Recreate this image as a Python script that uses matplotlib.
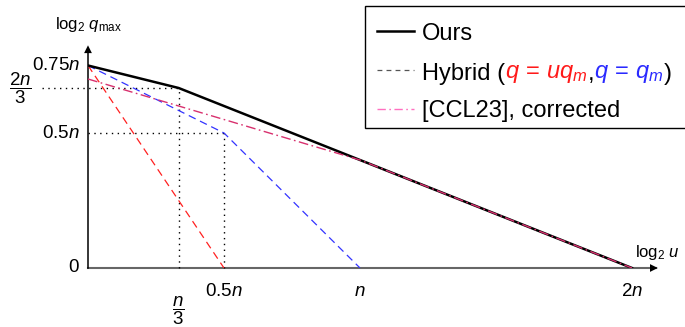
import matplotlib
matplotlib.use("Agg")
import matplotlib.pyplot as plt
from matplotlib.lines import Line2D
from matplotlib.patches import Rectangle

plt.rcParams['font.family'] = ['Liberation Sans', 'DejaVu Sans']
plt.rcParams['mathtext.fontset'] = 'custom'
plt.rcParams['mathtext.rm'] = 'Liberation Sans'
plt.rcParams['mathtext.it'] = 'Liberation Sans:italic'
plt.rcParams['mathtext.bf'] = 'Liberation Sans:bold'
plt.rcParams['lines.scale_dashes'] = False

# all values in units of n
ours_x = [0, 1 / 3, 2]
ours_y = [0.75, 2 / 3, 0]

hyb_red_x = [0, 0.5]
hyb_red_y = [0.75, 0]

hyb_blue_x = [0, 0.5, 1]
hyb_blue_y = [0.75, 0.5, 0]

ccl_x = [0, 1, 2]
ccl_y = [0.7, 0.4, 0]

# dotted guides: (x0, x1, y0, y1)
guides = [(-0.17, 1 / 3, 2 / 3, 2 / 3),
          (0, 0.5, 0.5, 0.5),
          (1 / 3, 1 / 3, 0, 2 / 3),
          (0.5, 0.5, 0, 0.5)]

xtick_pos = [0.5, 1, 2]
xtick_lab = [r'$0.5n$', r'$n$', r'$2n$']
ytick_pos = [0, 0.5, 0.75]
ytick_lab = [r'$0$', r'$0.5n$', r'$0.75n$']

# legend pieces
hyb_parts = ['Hybrid (', r'$q\,=\,uq_m$', ',', r'$q\,=\,q_m$', ')']
hyb_colors = ['black', '#ff1a1a', 'black', '#2a2aff', 'black']

fig = plt.figure(figsize=(6.85, 3.27), dpi=100)
ax = fig.add_axes([88 / 685, 59 / 327, 577 / 685, 256 / 327])
ax.set_xlim(0, 577 / 272)
ax.set_ylim(0, 256 / 270)
ax.axis('off')

# axes with arrows
ax.plot([0, 2.09], [0, 0], color='#666666', lw=1.5, clip_on=False, zorder=1)
ax.annotate('', xy=(2.105, 0), xytext=(2.05, 0),
            arrowprops=dict(arrowstyle='-|>', color='black', lw=0, mutation_scale=14),
            annotation_clip=False)
ax.plot([0, 0], [0, 0.8], color='black', lw=1.1, clip_on=False, zorder=1)
ax.annotate('', xy=(0, 0.835), xytext=(0, 0.78),
            arrowprops=dict(arrowstyle='-|>', color='black', lw=0, mutation_scale=14),
            annotation_clip=False)

for x0, x1, y0, y1 in guides:
    ax.plot([x0, x1], [y0, y1], color='black', lw=1.0, linestyle=(0, (1, 3.2)),
            clip_on=False, zorder=1)

# data lines
ax.plot(hyb_red_x, hyb_red_y, color='#ff2020', lw=0.9, dashes=(5.5, 3.5), zorder=2)
ax.plot(hyb_blue_x, hyb_blue_y, color='#3333ff', lw=0.9, dashes=(5.5, 3.5), zorder=2)
ax.plot(ours_x, ours_y, color='black', lw=1.8, zorder=3)
ax.plot(ccl_x, ccl_y, color='#d8306e', lw=1.0, dashes=(7, 2.5, 1.2, 2.5), zorder=4)

# tick labels
for p, lab in zip(xtick_pos, xtick_lab):
    ax.annotate(lab, xy=(p, 0), xytext=(0, -17), textcoords='offset points',
                ha='center', va='center', fontsize=13.5, annotation_clip=False)
ax.annotate(r'$\dfrac{n}{3}$', xy=(1 / 3, 0), xytext=(0, -31), textcoords='offset points',
            ha='center', va='center', fontsize=13.5, annotation_clip=False)
for p, lab in zip(ytick_pos, ytick_lab):
    ax.annotate(lab, xy=(0, p), xytext=(-6, 0), textcoords='offset points',
                ha='right', va='center', fontsize=13.5, annotation_clip=False)
ax.annotate(r'$\dfrac{2n}{3}$', xy=(0, 2 / 3), xytext=(-48.5, 0), textcoords='offset points',
            ha='center', va='center', fontsize=13.5, annotation_clip=False)

# axis labels
fig.text(88 / 685, 1 - 25 / 327, r'$\log_2\, q_{\mathrm{max}}$', ha='center', va='center',
         fontsize=12)
fig.text(657 / 685, 1 - 252 / 327, r'$\log_2\, u$', ha='center', va='center', fontsize=12)

# legend box runs off the right edge in the original
ax.add_patch(Rectangle((365 / 685, 1 - 128 / 327), 0.5, 122 / 327, transform=fig.transFigure,
                       facecolor='white', edgecolor='black', lw=1.0, clip_on=False,
                       zorder=4.9))

# legend; the Hybrid label is sized by the full text, then redrawn in colour
handles = [Line2D([], [], color='black', lw=1.8),
           Line2D([], [], color='#555555', lw=0.9, dashes=(3.5, 3)),
           Line2D([], [], color='#ff70c0', lw=1.0, dashes=(6, 2.5, 1.2, 2.5))]
labels = ['Ours', ''.join(hyb_parts), '[CCL23], corrected']
leg = ax.legend(handles, labels, loc='lower right',
                bbox_to_anchor=(678 / 685, 1 - 129 / 327),
                bbox_transform=fig.transFigure, fontsize=17, frameon=False,
                handlelength=1.57, handletextpad=0.34,
                labelspacing=0.62, borderpad=0.3, borderaxespad=0)

hyb = leg.get_texts()[1]
hyb.set_alpha(0)
prev, anchor = hyb, (0, 0)
for i, (part, col) in enumerate(zip(hyb_parts, hyb_colors)):
    prev = ax.annotate(part, xy=anchor, xycoords=prev, va='bottom', ha='left',
                       fontsize=17, color=col, zorder=10 + i)
    anchor = (1, 0)

fig.savefig('out.png', dpi=100)
